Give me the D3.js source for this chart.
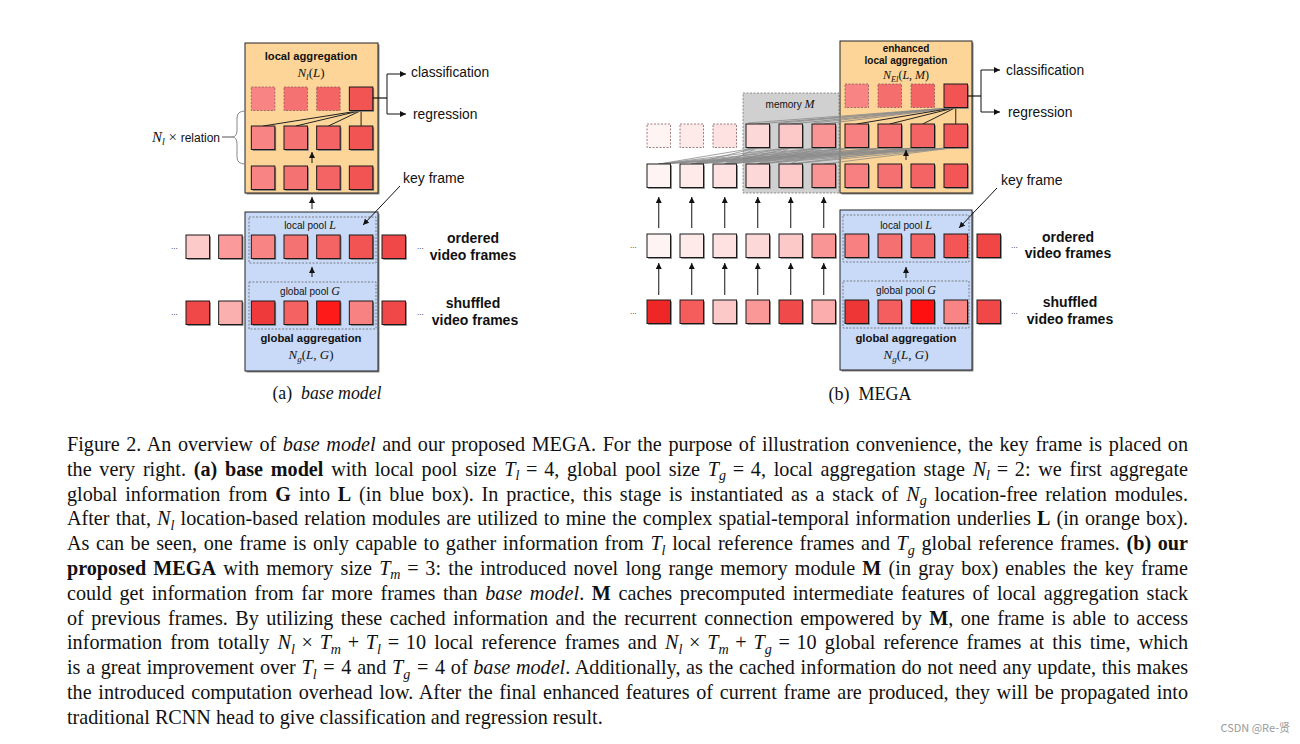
<!DOCTYPE html>
<html><head><meta charset="utf-8">
<script src="https://cdn.jsdelivr.net/npm/d3@7"></script>
<style>body{margin:0;background:#fff;} svg{display:block}</style>
</head><body>
<svg id="c" width="1300" height="744"></svg>
<script>
// ---------------- data ----------------
// (a) base model : 7 frame columns, orange-box stack uses columns 2..5
const aOrdered   = ["#fdcaca","#fa9a9a","#f88484","#f57272","#f46464","#f25454","#f04848"];
const aShuffled  = ["#f04848","#fbb0b0","#ee3a3a","#f46262","#ff1a1a","#f88282","#f04848"];
const aStackCols = [2,3,4,5];
const aStackTop  = ["#f88484","#f57272","#f46464","#f25454"];
const aStackMid  = ["#f88484","#f57272","#f46464","#f25454"];
const aStackBot  = ["#f88484","#f57272","#f46464","#f25454"];
// (b) MEGA : 11 frame columns, memory columns 3..5, local columns 6..9
const bOrdered   = ["#fff4f4","#ffeaea","#fee2e2","#fdd8d8","#fcc8c8","#fa9595","#f88080","#f57070","#f46464","#f25656","#f04646"];
const bShuffled  = ["#ee2626","#f55c5c","#fcc8c8","#fa9898","#f04a4a","#fbacac","#ee3636","#f45e5e","#ff1010","#f88484","#f04848"];
const bBottom    = ["#fff4f4","#ffeaea","#fee2e2","#fdd8d8","#fcc8c8","#fa9595","#f88080","#f57070","#f46464","#f25656"];
const bMiddle    = ["#fff4f4","#ffeaea","#fee2e2","#fdd8d8","#fcc8c8","#fa9595","#f88080","#f57070","#f46464","#f25656"];
const bMidDashed = [0,1,2];
const bMemCols   = [3,4,5];
const bLocalCols = [6,7,8,9];
const bTop       = ["#f88484","#f56e6e","#f46464","#f25454"];
const keyCol     = 9;

const labels = {
  cls: "classification", reg: "regression", key: "key frame",
  ordered: ["ordered","video frames"], shuffled: ["shuffled","video frames"],
  localAgg: "local aggregation", enhanced: ["enhanced","local aggregation"],
  globalAgg: "global aggregation", relation: "relation", memory: "memory ",
  localPool: "local pool ", globalPool: "global pool "
};

// "~" marks a fixed (non-stretching) math space
const captionLines = [
 "Figure 2. An overview of <i>base model</i> and our proposed MEGA. For the purpose of illustration convenience, the key frame is placed on",
 "the very right. <b>(a) base model</b> with local pool size <i>T</i><s>l</s>~=~4, global pool size <i>T</i><s>g</s>~=~4, local aggregation stage <i>N</i><s>l</s>~=~2: we first aggregate",
 "global information from <b>G</b> into <b>L</b> (in blue box). In practice, this stage is instantiated as a stack of <i>N</i><s>g</s> location-free relation modules.",
 "After that, <i>N</i><s>l</s> location-based relation modules are utilized to mine the complex spatial-temporal information underlies <b>L</b> (in orange box).",
 "As can be seen, one frame is only capable to gather information from <i>T</i><s>l</s> local reference frames and <i>T</i><s>g</s> global reference frames. <b>(b) our</b>",
 "<b>proposed MEGA</b> with memory size <i>T</i><s>m</s>~=~3: the introduced novel long range memory module <b>M</b> (in gray box) enables the key frame",
 "could get information from far more frames than <i>base model</i>. <b>M</b> caches precomputed intermediate features of local aggregation stack",
 "of previous frames. By utilizing these cached information and the recurrent connection empowered by <b>M</b>, one frame is able to access",
 "information from totally <i>N</i><s>l</s>~×~<i>T</i><s>m</s>~+~<i>T</i><s>l</s>~=~10 local reference frames and <i>N</i><s>l</s>~×~<i>T</i><s>m</s>~+~<i>T</i><s>g</s>~=~10 global reference frames at this time, which",
 "is a great improvement over <i>T</i><s>l</s>~=~4 and <i>T</i><s>g</s>~=~4 of <i>base model</i>. Additionally, as the cached information do not need any update, this makes",
 "the introduced computation overhead low. After the final enhanced features of current frame are produced, they will be propagated into",
 "traditional RCNN head to give classification and regression result."
];

// ---------------- setup ----------------
const svg = d3.select("#c");
const SANS = "'Liberation Sans', Arial, sans-serif";
const SERIF = "'Liberation Serif', 'Times New Roman', serif";
const S = 23.5;

svg.append("defs").append("marker")
  .attr("id","ah").attr("markerUnits","userSpaceOnUse")
  .attr("markerWidth",7).attr("markerHeight",6).attr("refX",6).attr("refY",3).attr("orient","auto")
  .append("path").attr("d","M0,0 L6,3 L0,6 z").attr("fill","#111");

const xa = d3.scaleLinear().domain([0,6]).range([186,382]);
const ya = d3.scaleOrdinal().domain(["top","mid","bot","ord","shu"]).range([87,126,166,235,301]);
const xb = d3.scaleLinear().domain([0,10]).range([647,977]);
const yb = d3.scaleOrdinal().domain(["top","mid","bot","ord","shu"]).range([84,124,164,234,300]);

function parse(str){
  const re=/<(i|b|s)>(.*?)<\/\1>/g; let last=0,m,out=[];
  while((m=re.exec(str))){ if(m.index>last) out.push({t:"n",s:str.slice(last,m.index)}); out.push({t:m[1],s:m[2]}); last=re.lastIndex; }
  if(last<str.length) out.push({t:"n",s:str.slice(last)});
  return out.map(o=>({t:o.t,s:o.s.replace(/~/g,"\u2004")}));
}
function rich(g, x, y, str, o){
  const t = g.append("text").attr("x",x).attr("y",y)
    .attr("font-family",o.font||SERIF).attr("font-size",o.size)
    .attr("text-anchor",o.anchor||"start").attr("fill",o.fill||"#111")
    .style("white-space","pre");
  const segs = parse(str); let shift = 0; const sd = o.size*0.22;
  segs.forEach(sg=>{
    const ts = t.append("tspan").text(sg.s);
    if(sg.t==="i") ts.attr("font-style","italic");
    if(sg.t==="b") ts.attr("font-weight","bold");
    if(sg.t==="s"){ ts.attr("font-style","italic").attr("font-size",o.size*0.7).attr("dy",sd); shift=sd; }
    else if(shift){ ts.attr("dy",-shift); shift=0; }
  });
  return t;
}
function square(g, x, y, fill, dashed){
  if(dashed){
    g.append("rect").attr("x",x).attr("y",y).attr("width",S).attr("height",S)
      .attr("fill",fill).attr("stroke","#8a5a5a").attr("stroke-width",0.8).attr("stroke-dasharray","2,1.5");
  } else {
    g.append("rect").attr("x",x+1.3).attr("y",y+1.3).attr("width",S).attr("height",S).attr("fill","#7a7a7a");
    g.append("rect").attr("x",x).attr("y",y).attr("width",S).attr("height",S)
      .attr("fill",fill).attr("stroke","#1a1a1a").attr("stroke-width",1);
  }
}
function box(g,x0,y0,x1,y1,fill){
  g.append("rect").attr("x",x0+1.5).attr("y",y0+1.5).attr("width",x1-x0).attr("height",y1-y0).attr("fill","#888");
  g.append("rect").attr("x",x0).attr("y",y0).attr("width",x1-x0).attr("height",y1-y0)
    .attr("fill",fill).attr("stroke","#222").attr("stroke-width",1);
}
function dashBox(g,x0,y0,x1,y1,fill,stroke){
  g.append("rect").attr("x",x0).attr("y",y0).attr("width",x1-x0).attr("height",y1-y0)
    .attr("fill",fill||"none").attr("stroke",stroke||"#666").attr("stroke-width",0.8).attr("stroke-dasharray","2,1.5");
}
function arrow(g,x1,y1,x2,y2,col){
  g.append("line").attr("x1",x1).attr("y1",y1).attr("x2",x2).attr("y2",y2)
    .attr("stroke",col||"#111").attr("stroke-width",1).attr("marker-end","url(#ah)");
}
function line(g,x1,y1,x2,y2,col,w){
  g.append("line").attr("x1",x1).attr("y1",y1).attr("x2",x2).attr("y2",y2)
    .attr("stroke",col).attr("stroke-width",w);
}
function sans(g,x,y,txt,size,weight,anchor,fill){
  return g.append("text").attr("x",x).attr("y",y).attr("font-family",SANS).attr("font-size",size)
    .attr("font-weight",weight||"normal").attr("text-anchor",anchor||"start").attr("fill",fill||"#111").text(txt);
}
function poolLabel(g,x,y,txt,letter,size){
  const t = g.append("text").attr("x",x).attr("y",y).attr("text-anchor","middle").attr("fill","#111").style("white-space","pre");
  t.append("tspan").attr("font-family",SANS).attr("font-size",size).text(txt);
  t.append("tspan").attr("font-family",SERIF).attr("font-style","italic").attr("font-size",size+2).text(letter);
}

// ================= (a) base model =================
const ga = svg.append("g");
box(ga,245,43,378,193,"#fdd598");
box(ga,245,212,378,371,"#c9daf8");
dashBox(ga,249,217,376,263);
dashBox(ga,249,282,376,329);

const aKeyX = xa(5)+S/2, aKeyY = ya("top")+S;
aStackCols.forEach(c=>line(ga,aKeyX,aKeyY,xa(c)+S/2,ya("mid"),"#222",1));

aStackCols.forEach((c,i)=>{
  square(ga,xa(c),ya("top"),aStackTop[i], i<3);
  square(ga,xa(c),ya("mid"),aStackMid[i], false);
  square(ga,xa(c),ya("bot"),aStackBot[i], false);
});
aOrdered.forEach((f,i)=>square(ga,xa(i),ya("ord"),f,false));
aShuffled.forEach((f,i)=>square(ga,xa(i),ya("shu"),f,false));

arrow(ga,312,163,312,152);
arrow(ga,312,209,312,197);
arrow(ga,312,277,312,267);

sans(ga,311,60,labels.localAgg,11.2,"bold","middle");
rich(ga,311,77,"<i>N</i><s>l</s>(<i>L</i>)",{size:13,anchor:"middle"});
poolLabel(ga,310,229,labels.localPool,"L",10);
poolLabel(ga,310,295,labels.globalPool,"G",10);
sans(ga,311,342,labels.globalAgg,11.3,"bold","middle");
rich(ga,311,359,"<i>N</i><s>g</s>(<i>L</i>, <i>G</i>)",{size:13,anchor:"middle"});

line(ga,xa(5)+S,98,387,98,"#111",1.2);
line(ga,387,74,387,114,"#111",1);
arrow(ga,387,74,406,74); arrow(ga,387,114,406,114);
sans(ga,411,77,labels.cls,13.8);
sans(ga,413,119,labels.reg,13.8);

ga.append("path").attr("d","M245,111 Q237,111 237,118 L237,130 Q237,137 232,137 Q237,137 237,144 L237,157 Q237,164 245,164")
  .attr("fill","none").attr("stroke","#888").attr("stroke-width",1);
line(ga,222,137,232,137,"#555",1);
const rel = ga.append("text").attr("x",220).attr("y",141.5).attr("text-anchor","end").attr("fill","#111");
rel.append("tspan").attr("font-family",SERIF).attr("font-style","italic").attr("font-size",15).text("N");
rel.append("tspan").attr("font-family",SERIF).attr("font-style","italic").attr("font-size",10).attr("dy",3).text("l");
rel.append("tspan").attr("font-family",SERIF).attr("font-size",15).attr("dy",-3).text(" × ");
rel.append("tspan").attr("font-family",SANS).attr("font-size",12).text(labels.relation);

sans(ga,403,183,labels.key,14);
arrow(ga,400,186,363,225);

[ya("ord"),ya("shu")].forEach(y=>{ sans(ga,171,y+14,"...",8); sans(ga,417,y+14,"...",8); });
sans(ga,473,243,labels.ordered[0],14,"bold","middle");
sans(ga,473,260,labels.ordered[1],14,"bold","middle");
sans(ga,473,308,labels.shuffled[0],14,"bold","middle");
sans(ga,475,325,labels.shuffled[1],14,"bold","middle");

rich(ga,327,399,"(a)  <i>base model</i>",{size:17.8,anchor:"middle"});

// ================= (b) MEGA =================
const gb = svg.append("g");
dashBox(gb,743,93,839,193,"#d0d0d0","#777");
box(gb,840,41,972,193,"#fdd598");
box(gb,840,210,972,370,"#c9daf8");
dashBox(gb,843,215,969,262);
dashBox(gb,843,281,969,328);

bLocalCols.forEach(j=>{
  d3.range(0, j-3).forEach(k=>line(gb,xb(j)+S/2,yb("mid")+S,xb(k)+S/2,yb("bot"),"#8a8a8a",0.8));
});
bMemCols.forEach(j=>{
  d3.range(0, j).forEach(k=>line(gb,xb(j)+S/2,yb("mid")+S,xb(k)+S/2,yb("bot"),"#8a8a8a",0.8));
});
const bKeyX = xb(keyCol)+S/2, bKeyY = yb("top")+S;
bMemCols.forEach(c=>{
  line(gb,bKeyX,bKeyY,xb(c)+S/2,yb("mid"),"#8a8a8a",0.9);
  line(gb,bKeyX,bKeyY,xb(c)+2,yb("mid")-1,"#8a8a8a",0.8);
});
bLocalCols.forEach(c=>line(gb,bKeyX,bKeyY,xb(c)+S/2,yb("mid"),"#222",1));

bLocalCols.forEach((c,i)=>square(gb,xb(c),yb("top"),bTop[i], c!==keyCol));
bMiddle.forEach((f,i)=>square(gb,xb(i),yb("mid"),f, bMidDashed.includes(i)));
bBottom.forEach((f,i)=>square(gb,xb(i),yb("bot"),f,false));
bOrdered.forEach((f,i)=>square(gb,xb(i),yb("ord"),f,false));
bShuffled.forEach((f,i)=>square(gb,xb(i),yb("shu"),f,false));

d3.range(0,6).forEach(i=>{
  arrow(gb,xb(i)+S/2,228,xb(i)+S/2,197);
  arrow(gb,xb(i)+S/2,295,xb(i)+S/2,263);
});
arrow(gb,906,160,906,150);
arrow(gb,906,278,906,267);

sans(gb,906,52,labels.enhanced[0],10,"bold","middle");
sans(gb,906,64,labels.enhanced[1],10,"bold","middle");
rich(gb,906,79,"<i>N</i><s>El</s>(<i>L</i>, <i>M</i>)",{size:12,anchor:"middle"});
poolLabel(gb,790,108,labels.memory,"M",10);
poolLabel(gb,906,229,labels.localPool,"L",10);
poolLabel(gb,906,294,labels.globalPool,"G",10);
sans(gb,906,342,labels.globalAgg,11.3,"bold","middle");
rich(gb,906,359,"<i>N</i><s>g</s>(<i>L</i>, <i>G</i>)",{size:13,anchor:"middle"});

line(gb,xb(keyCol)+S,96,981,96,"#111",1.2);
line(gb,981,70,981,112,"#111",1);
arrow(gb,981,70,1000,70); arrow(gb,981,112,1000,112);
sans(gb,1006,75,labels.cls,13.8);
sans(gb,1008,117,labels.reg,13.8);

sans(gb,1001,185,labels.key,14);
arrow(gb,997,188,959,228);

[yb("ord"),yb("shu")].forEach(y=>{ sans(gb,630,y+14,"...",8); sans(gb,1011,y+14,"...",8); });
sans(gb,1068,242,labels.ordered[0],14,"bold","middle");
sans(gb,1068,258,labels.ordered[1],14,"bold","middle");
sans(gb,1070,307,labels.shuffled[0],14,"bold","middle");
sans(gb,1070,324,labels.shuffled[1],14,"bold","middle");

rich(gb,870,400,"(b)  MEGA",{size:18,anchor:"middle"});

// ================= caption =================
const gc = svg.append("g");
const capX = 67, capRight = 1188, lastW = 536;
const probe = rich(gc,0,-100,captionLines[captionLines.length-1],{size:20});
const fs = 20*lastW/probe.node().getComputedTextLength();
probe.remove();
captionLines.forEach((ln,i)=>{
  const t = rich(gc,capX,451+i*24.8,ln,{size:fs});
  if(i<captionLines.length-1){
    const w = t.node().getComputedTextLength();
    const n = (ln.replace(/<[^>]+>/g,"").match(/ /g)||[]).length;
    t.attr("word-spacing",(capRight-capX-w)/n);
  }
});

svg.append("text").attr("x",1290).attr("y",732).attr("text-anchor","end")
  .attr("font-family","'Noto Sans CJK SC', 'Liberation Sans', sans-serif").attr("font-size",11)
  .attr("fill","#9a9a9a").text("CSDN @Re-贤");
</script>
</body></html>
